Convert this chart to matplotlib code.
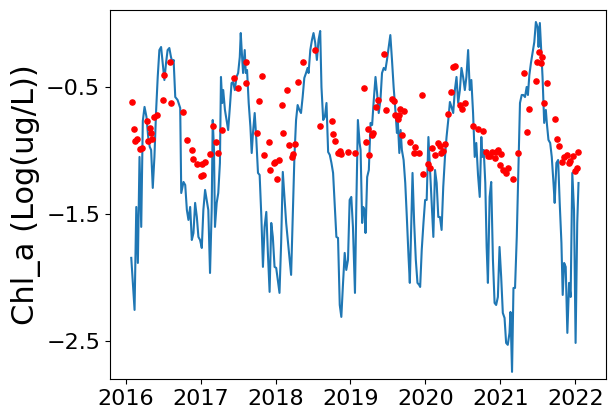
import matplotlib
matplotlib.use("Agg")
import matplotlib.pyplot as plt

# Modelled series (decimal year, log chl-a)
model_year = [
    2016.075, 2016.119, 2016.142, 2016.163, 2016.185, 2016.208, 2016.229, 2016.252, 2016.278, 2016.301,
    2016.322, 2016.340, 2016.362, 2016.384, 2016.407, 2016.428, 2016.450, 2016.473, 2016.494, 2016.517,
    2016.539, 2016.560, 2016.583, 2016.605, 2016.626, 2016.640, 2016.662, 2016.693, 2016.728, 2016.742,
    2016.772, 2016.795, 2016.817, 2016.838, 2016.861, 2016.883, 2016.905, 2016.927, 2016.950, 2016.971,
    2016.993, 2017.016, 2017.037, 2017.060, 2017.082, 2017.103, 2017.126, 2017.148, 2017.162, 2017.179,
    2017.192, 2017.215, 2017.236, 2017.258, 2017.272, 2017.289, 2017.302, 2017.325, 2017.347, 2017.368,
    2017.391, 2017.413, 2017.434, 2017.457, 2017.479, 2017.501, 2017.523, 2017.536, 2017.546, 2017.567,
    2017.589, 2017.603, 2017.620, 2017.642, 2017.665, 2017.682, 2017.699, 2017.722, 2017.744, 2017.766,
    2017.788, 2017.811, 2017.832, 2017.854, 2017.877, 2017.898, 2017.921, 2017.943, 2017.964, 2017.987,
    2018.009, 2018.030, 2018.053, 2018.075, 2018.097, 2018.119, 2018.142, 2018.163, 2018.185, 2018.208,
    2018.229, 2018.252, 2018.274, 2018.295, 2018.318, 2018.340, 2018.362, 2018.384, 2018.407, 2018.428,
    2018.441, 2018.464, 2018.486, 2018.507, 2018.530, 2018.552, 2018.574, 2018.596, 2018.613, 2018.636,
    2018.658, 2018.680, 2018.702, 2018.724, 2018.746, 2018.768, 2018.791, 2018.812, 2018.834, 2018.857,
    2018.878, 2018.901, 2018.923, 2018.944, 2018.967, 2018.989, 2019.011, 2019.033, 2019.060, 2019.077,
    2019.099, 2019.122, 2019.135, 2019.156, 2019.170, 2019.188, 2019.201, 2019.223, 2019.245, 2019.268,
    2019.289, 2019.311, 2019.334, 2019.355, 2019.377, 2019.400, 2019.421, 2019.444, 2019.466, 2019.487,
    2019.510, 2019.532, 2019.554, 2019.576, 2019.599, 2019.620, 2019.633, 2019.652, 2019.669, 2019.686,
    2019.709, 2019.731, 2019.752, 2019.775, 2019.792, 2019.811, 2019.828, 2019.850, 2019.872, 2019.894,
    2019.917, 2019.930, 2019.951, 2019.974, 2019.996, 2020.017, 2020.040, 2020.062, 2020.083, 2020.106,
    2020.128, 2020.150, 2020.172, 2020.194, 2020.216, 2020.238, 2020.261, 2020.282, 2020.305, 2020.327,
    2020.348, 2020.371, 2020.393, 2020.415, 2020.437, 2020.460, 2020.481, 2020.503, 2020.526, 2020.547,
    2020.570, 2020.592, 2020.613, 2020.636, 2020.658, 2020.679, 2020.702, 2020.725, 2020.746, 2020.759,
    2020.778, 2020.799, 2020.817, 2020.834, 2020.857, 2020.878, 2020.901, 2020.923, 2020.944, 2020.967,
    2020.989, 2021.011, 2021.033, 2021.056, 2021.077, 2021.099, 2021.122, 2021.135, 2021.156, 2021.175,
    2021.196, 2021.219, 2021.241, 2021.262, 2021.285, 2021.307, 2021.329, 2021.351, 2021.368, 2021.387,
    2021.408, 2021.430, 2021.453, 2021.474, 2021.497, 2021.510, 2021.527, 2021.540, 2021.563, 2021.585,
    2021.607, 2021.620, 2021.642, 2021.665, 2021.686, 2021.709, 2021.725, 2021.748, 2021.771, 2021.792,
    2021.815, 2021.832, 2021.851, 2021.872, 2021.894, 2021.917, 2021.938, 2021.960, 2021.983, 2022.004,
    2022.026, 2022.043,
]
model_chla = [
    -1.846, -2.256, -1.445, -1.886, -1.051, -1.602, -0.768, -0.657, -0.736, -0.894,
    -0.972, -0.996, -1.295, -1.051, -0.681, -0.421, -0.209, -0.185, -0.311, -0.445,
    -0.311, -0.209, -0.193, -0.264, -0.311, -0.287, -0.579, -0.602, -0.665, -1.335,
    -1.248, -1.272, -1.469, -1.547, -1.445, -1.705, -1.650, -1.413, -1.524, -1.681,
    -1.705, -1.768, -1.469, -1.311, -1.390, -1.469, -1.965, -1.469, -0.760, -0.996,
    -1.602, -1.413, -1.335, -1.098, -0.421, -0.626, -0.524, -0.681, -0.760, -0.839,
    -0.657, -0.469, -0.461, -0.524, -0.421, -0.390, -0.264, -0.075, -0.185, -0.390,
    -0.209, -0.390, -0.366, -0.626, -0.815, -1.020, -0.862, -0.705, -0.917, -1.177,
    -1.193, -1.524, -1.917, -1.602, -1.484, -1.807, -2.114, -1.571, -1.681, -1.917,
    -1.925, -2.020, -2.122, -1.728, -1.169, -1.366, -1.571, -1.705, -1.839, -1.980,
    -1.524, -1.051, -0.760, -0.642, -0.681, -0.705, -0.579, -0.429, -0.390, -0.350,
    -0.390, -0.209, -0.130, -0.075, -0.154, -0.287, -0.130, -0.059, -0.500, -0.760,
    -0.736, -0.626, -1.012, -1.035, -1.098, -1.177, -1.445, -1.681, -1.689, -2.217,
    -2.311, -2.043, -1.807, -1.941, -1.862, -1.390, -1.366, -1.602, -2.122, -1.469,
    -0.760, -0.941, -0.996, -1.571, -1.445, -1.469, -1.650, -1.209, -1.154, -0.783,
    -0.799, -0.602, -0.421, -0.547, -0.705, -0.602, -0.390, -0.350, -0.366, -0.287,
    -0.185, -0.091, -0.287, -0.500, -0.681, -0.862, -0.783, -1.020, -0.839, -0.996,
    -1.075, -1.256, -1.524, -1.839, -2.043, -1.571, -1.177, -1.571, -1.862, -2.043,
    -2.059, -2.075, -1.783, -1.571, -1.390, -1.390, -0.894, -1.154, -1.413, -1.681,
    -1.154, -1.256, -1.524, -1.524, -1.626, -1.287, -1.051, -0.894, -0.760, -0.618,
    -0.657, -0.705, -0.524, -0.421, -0.626, -0.524, -0.350, -0.421, -0.524, -0.421,
    -0.209, -0.524, -0.445, -0.705, -1.051, -0.941, -1.193, -1.366, -0.894, -1.051,
    -0.996, -1.256, -1.760, -2.043, -1.366, -1.248, -1.862, -2.201, -2.217, -2.154,
    -1.760, -1.996, -2.280, -2.319, -2.516, -2.531, -2.437, -2.272, -2.744, -2.083,
    -2.083, -1.681, -1.130, -0.626, -0.563, -0.563, -0.579, -0.500, -0.563, -0.406,
    -0.311, -0.232, -0.146, 0.012, -0.028, -0.185, 0.004, -0.154, -0.421, -0.783,
    -0.681, -0.783, -0.917, -0.941, -1.051, -1.256, -1.413, -1.098, -1.075, -1.413,
    -1.728, -2.138, -1.886, -1.917, -2.437, -2.043, -2.154, -1.177, -1.469, -2.516,
    -1.571, -1.256,
]

# Observed samples
obs_year = [
    2016.083, 2016.110, 2016.128, 2016.150, 2016.189, 2016.221, 2016.282, 2016.295, 2016.322, 2016.340,
    2016.354, 2016.380, 2016.420, 2016.494, 2016.517, 2016.587, 2016.600, 2016.759, 2016.825, 2016.891,
    2016.905, 2016.958, 2017.003, 2017.029, 2017.020, 2017.064, 2017.126, 2017.170, 2017.201, 2017.236,
    2017.281, 2017.444, 2017.501, 2017.612, 2017.612, 2017.819, 2017.779, 2017.752, 2017.845, 2017.911,
    2017.925, 2017.977, 2017.996, 2018.017, 2018.044, 2018.083, 2018.097, 2018.150, 2018.185, 2018.216,
    2018.229, 2018.256, 2018.295, 2018.362, 2018.530, 2018.600, 2018.759, 2018.772, 2018.799, 2018.838,
    2018.865, 2018.878, 2018.971, 2019.060, 2019.183, 2019.232, 2019.209, 2019.249, 2019.281, 2019.307,
    2019.342, 2019.368, 2019.448, 2019.474, 2019.550, 2019.585, 2019.599, 2019.633, 2019.642, 2019.665,
    2019.718, 2019.691, 2019.792, 2019.858, 2019.845, 2019.911, 2019.951, 2019.970, 2020.030, 2020.057,
    2020.083, 2020.123, 2020.163, 2020.189, 2020.203, 2020.229, 2020.256, 2020.295, 2020.335, 2020.362,
    2020.393, 2020.460, 2020.494, 2020.534, 2020.640, 2020.706, 2020.772, 2020.812, 2020.838, 2020.865,
    2020.891, 2020.931, 2020.944, 2020.971, 2021.011, 2020.997, 2021.037, 2021.077, 2021.103, 2021.170,
    2021.236, 2021.315, 2021.355, 2021.381, 2021.474, 2021.487, 2021.510, 2021.554, 2021.540, 2021.620,
    2021.585, 2021.726, 2021.752, 2021.779, 2021.819, 2021.845, 2021.885, 2021.911, 2021.930, 2021.964,
    2021.991, 2022.017, 2022.036,
]
obs_chla = [
    -0.620, -0.831, -0.925, -0.912, -0.986, -0.980, -0.768, -0.925, -0.825, -0.860,
    -0.912, -0.739, -0.723, -0.605, -0.408, -0.306, -0.628, -0.697, -0.917, -0.998,
    -1.069, -1.109, -1.201, -1.195, -1.104, -1.093, -1.028, -0.807, -0.935, -1.022,
    -0.839, -0.431, -0.510, -0.306, -0.471, -0.416, -0.610, -0.865, -1.038, -0.935,
    -1.156, -1.101, -1.093, -1.224, -1.077, -0.644, -0.865, -0.526, -0.959, -1.049,
    -1.028, -0.951, -0.463, -0.306, -0.211, -0.809, -0.768, -0.872, -0.928, -1.022,
    -1.002, -1.030, -1.014, -1.022, -0.510, -0.833, -0.935, -1.038, -0.878, -0.865,
    -0.660, -0.605, -0.243, -0.683, -0.597, -0.613, -0.723, -0.754, -0.723, -0.676,
    -0.689, -0.880, -0.935, -0.975, -1.022, -1.022, -0.565, -1.187, -1.109, -1.140,
    -0.983, -1.038, -0.943, -0.967, -1.022, -1.006, -0.951, -0.715, -0.542, -0.345,
    -0.337, -0.644, -0.676, -0.628, -0.809, -0.833, -0.849, -1.014, -1.041, -1.041,
    -1.014, -1.059, -1.014, -0.998, -1.030, -1.117, -1.156, -1.180, -1.140, -1.227,
    -1.022, -0.392, -0.857, -0.676, -0.455, -0.306, -0.227, -0.266, -0.313, -0.471,
    -0.628, -0.754, -0.912, -0.967, -1.093, -1.054, -1.038, -1.101, -1.085, -1.046,
    -1.164, -1.140, -1.014,
]

x_ticks = [2016, 2017, 2018, 2019, 2020, 2021, 2022]
y_ticks = [-0.5, -1.5, -2.5]

fig = plt.figure(figsize=(6.14, 4.19), dpi=100)
ax = fig.add_axes([0.179, 0.0955, 0.808, 0.8805])

ax.plot(model_year, model_chla, color='#1f77b4', linewidth=1.5)
ax.scatter(obs_year, obs_chla, color='red', s=14, zorder=3)

ax.set_xlim(2015.79, 2022.41)
ax.set_ylim(-2.80, 0.106)
ax.set_xticks(x_ticks)
ax.set_xticklabels([str(t) for t in x_ticks])
ax.set_yticks(y_ticks)
ax.tick_params(labelsize=16)
ax.set_ylabel('Chl_a (Log(ug/L))', fontsize=22)

fig.savefig('out.png', dpi=100)
